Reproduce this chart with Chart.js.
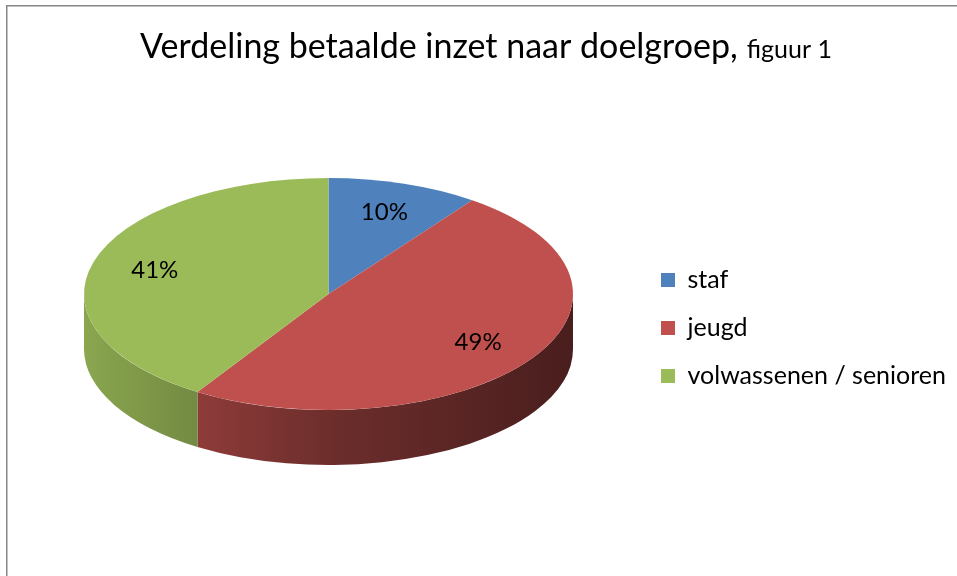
<!DOCTYPE html>
<html><head><meta charset="utf-8">
<script src="https://cdn.jsdelivr.net/npm/chart.js@4/dist/chart.umd.min.js"></script>
<style>html,body{margin:0;padding:0;background:#fff}#wrap{position:relative;width:957px;height:576px}</style>
</head><body><div id="wrap"><canvas id="c"></canvas></div>
<script>
// ---- data ----
const titleMain = 'Verdeling betaalde inzet naar doelgroep,';
const titleSub = 'figuur 1';
const categories = ['staf', 'jeugd', 'volwassenen / senioren'];
const values = [10, 49, 41];
const colors = ['#4F81BD', '#C0504D', '#9BBB59'];

// ---- style / layout ----
const FONT = 'Lato, "Open Sans", sans-serif';
const LEGEND_SIZE = 25, LEGEND_PAD = 23, LEGEND_BOX = 14;
const LEGEND_LEFT = 638;         // x where the legend box starts
const PIE_CX = 328.5, PIE_CY = 294, PIE_R = 244.5;
const KY = 116 / 244.5;          // vertical squash of the pie top
const DEPTH = 55;                // thickness of the 3D side wall
const SHADE = [[0, 0.89], [0.2, 0.76], [0.5, 0.57], [1, 0.38]];

function shade(hex, f) {
  const n = parseInt(hex.slice(1), 16);
  const r = Math.round(((n >> 16) & 255) * f), g = Math.round(((n >> 8) & 255) * f), b = Math.round((n & 255) * f);
  return `rgb(${r},${g},${b})`;
}

const mctx = document.createElement('canvas').getContext('2d');
mctx.font = `normal ${LEGEND_SIZE}px ${FONT}`;
const maxTextW = Math.max(...categories.map(c => mctx.measureText(c).width));
const legendW = LEGEND_PAD + LEGEND_BOX + LEGEND_SIZE / 2 + maxTextW + 10;
const padRight = Math.max(0, 957 - LEGEND_LEFT - legendW);
const padLeft = 2 * PIE_CX - LEGEND_LEFT;
const padBottom = 576 - (273 - (LEGEND_SIZE - LEGEND_BOX) / 2 + 3 * (LEGEND_SIZE + LEGEND_PAD));
const padTop = 2 * PIE_CY - (576 - padBottom);

const total = values.reduce((a, b) => a + b, 0);

const frame = {
  id: 'frame',
  beforeDraw(chart) {
    const ctx = chart.ctx;
    ctx.save();
    ctx.strokeStyle = '#878787'; ctx.lineWidth = 1.5;
    ctx.beginPath(); ctx.moveTo(6.75, 576); ctx.lineTo(6.75, 5.75); ctx.lineTo(957, 5.75); ctx.stroke();
    ctx.restore();
  },
  afterDraw(chart) {
    const ctx = chart.ctx;
    ctx.save();
    ctx.fillStyle = '#000'; ctx.textBaseline = 'alphabetic'; ctx.textAlign = 'left';
    ctx.font = `34px ${FONT}`; const w1 = ctx.measureText(titleMain).width;
    ctx.font = `25px ${FONT}`; const w2 = ctx.measureText(titleSub).width;
    const gap = 9, x0 = 486 - (w1 + gap + w2) / 2;
    ctx.font = `34px ${FONT}`; ctx.fillText(titleMain, x0, 58);
    ctx.font = `25px ${FONT}`; ctx.fillText(titleSub, x0 + w1 + gap, 58);
    ctx.restore();
  }
};

const pie3d = {
  id: 'pie3d',
  beforeDatasetsDraw(chart) {
    const ctx = chart.ctx;
    const arcs = chart.getDatasetMeta(0).data;
    this._saved = false;
    if (!arcs.length) return;
    const {x: cx, y: cy, outerRadius: R} = arcs[0].getProps(['x', 'y', 'outerRadius'], true);
    const b = R * KY;
    arcs.forEach((arc, i) => {
      const p = arc.getProps(['startAngle', 'endAngle'], true);
      for (let k = -1; k <= 1; k++) {
        const lo = Math.max(p.startAngle, 2 * Math.PI * k);
        const hi = Math.min(p.endAngle, 2 * Math.PI * k + Math.PI);
        if (hi > lo) {
          const g = ctx.createLinearGradient(cx - R, 0, cx + R, 0);
          SHADE.forEach(([t, f]) => g.addColorStop(t, shade(colors[i], f)));
          ctx.beginPath();
          ctx.ellipse(cx, cy, R, b, 0, lo, hi, false);
          ctx.ellipse(cx, cy + DEPTH, R, b, 0, hi, lo, true);
          ctx.closePath();
          ctx.fillStyle = g; ctx.fill();
        }
      }
    });
    ctx.save();
    this._saved = true;
    ctx.translate(cx, cy); ctx.scale(1, KY); ctx.translate(-cx, -cy);
  },
  afterDatasetsDraw(chart) {
    const ctx = chart.ctx;
    if (this._saved) ctx.restore();
    const arcs = chart.getDatasetMeta(0).data;
    ctx.save();
    ctx.font = `24px ${FONT}`; ctx.fillStyle = '#000';
    ctx.textAlign = 'center'; ctx.textBaseline = 'middle';
    arcs.forEach((arc, i) => {
      const p = arc.getProps(['x', 'y', 'startAngle', 'endAngle', 'outerRadius'], true);
      const mid = (p.startAngle + p.endAngle) / 2, r = p.outerRadius * 0.74;
      const x = p.x + r * Math.cos(mid), y = p.y + r * KY * Math.sin(mid);
      ctx.fillText(Math.round(values[i] / total * 100) + '%', x, y);
    });
    ctx.restore();
  }
};

new Chart(document.getElementById('c'), {
  type: 'pie',
  data: { labels: categories, datasets: [{ data: values, backgroundColor: colors, borderWidth: 0, clip: false }] },
  options: {
    responsive: true, maintainAspectRatio: false, animation: false, events: [],
    radius: PIE_R, rotation: 0,
    layout: { padding: { left: padLeft, right: padRight, top: padTop, bottom: padBottom } },
    plugins: {
      title: { display: false }, tooltip: { enabled: false },
      legend: {
        position: 'right', align: 'end',
        labels: { boxWidth: LEGEND_BOX, boxHeight: LEGEND_BOX, padding: LEGEND_PAD, color: '#000',
                  font: { family: FONT, size: LEGEND_SIZE } }
      }
    }
  },
  plugins: [frame, pie3d]
});
</script>
</body></html>
